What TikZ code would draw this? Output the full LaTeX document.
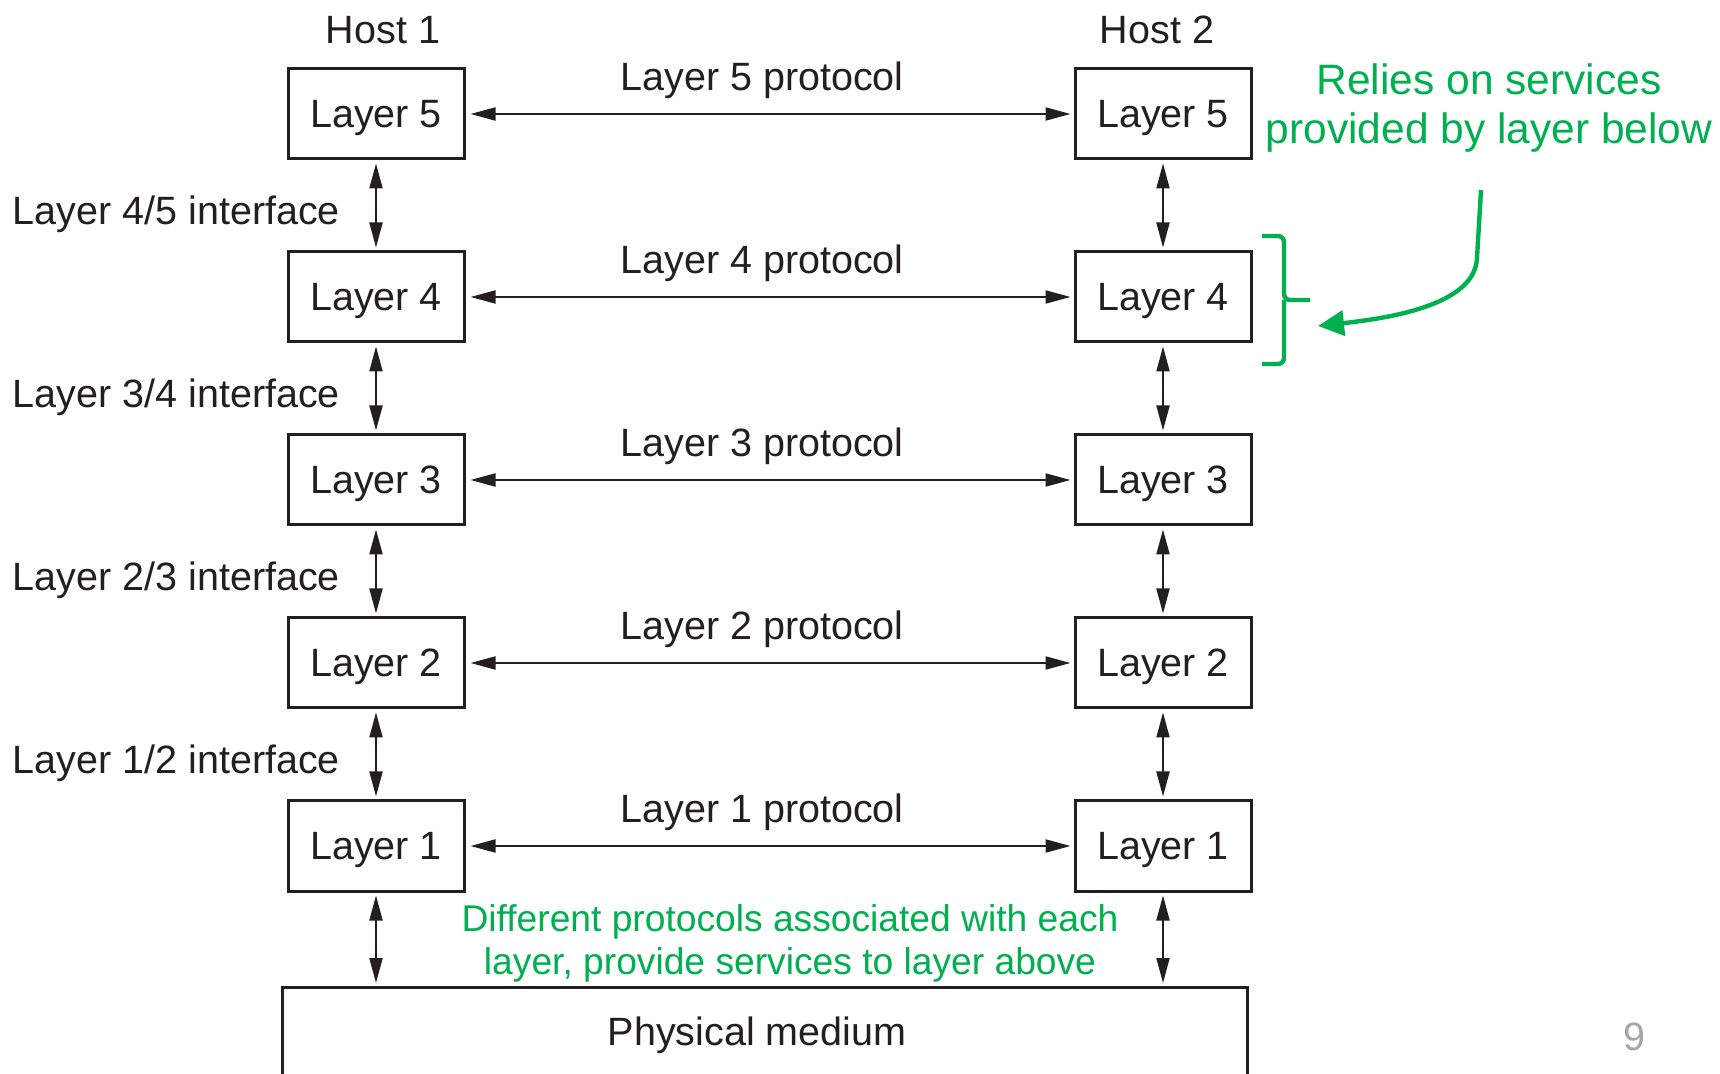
\documentclass[tikz,border=0pt]{standalone}
\usepackage{fontspec}
\setmainfont{Liberation Sans}
\usetikzlibrary{arrows.meta, positioning}

\definecolor{inkblack}{RGB}{35,31,32}
\definecolor{notegreen}{RGB}{0,176,80}

\begin{document}
\begin{tikzpicture} [x=0.5pt, y=-0.5pt, node distance = 91.5pt and 393.5pt, on grid,
        font=\fontsize{19.75}{23}\selectfont, inkblack,
        >={Triangle[length=12.5pt, width=6.5pt]},
        layer/.style = {draw, line width=1.5pt, minimum width=88pt, minimum height=45pt, inner sep=0pt, text depth=0pt},
        link/.style = {<->, line width=1pt, shorten <=2.5pt, shorten >=1.5pt},
        stack/.style = {<->, line width=1pt, shorten <=1.5pt, shorten >=1.5pt},
        proto/.style = {above=7pt, inner sep=0pt, xshift=-3.75pt},
        iface/.style = {anchor=east, inner sep=0pt, xshift=-17.5pt, yshift=-4.5pt},
        note/.style = {notegreen, align=center, inner sep=0pt}]
        \useasboundingbox (0,0) rectangle (1720,1074);
        \fill [white] (0,0) rectangle (1720,1074);

        \node (h1l5) [layer] at (376,114) {Layer 5};
        \node (h1l4) [layer, below = of h1l5] {Layer 4};
        \node (h1l3) [layer, below = of h1l4] {Layer 3};
        \node (h1l2) [layer, below = of h1l3] {Layer 2};
        \node (h1l1) [layer, below = of h1l2] {Layer 1};
        \node (h2l5) [layer, right = of h1l5] {Layer 5};
        \node (h2l4) [layer, right = of h1l4] {Layer 4};
        \node (h2l3) [layer, right = of h1l3] {Layer 3};
        \node (h2l2) [layer, right = of h1l2] {Layer 2};
        \node (h2l1) [layer, right = of h1l1] {Layer 1};

        \node (host1) [above = 42pt of h1l5, xshift=3.5pt] {Host 1};
        \node (host2) [above = 42pt of h2l5, xshift=-3pt] {Host 2};

        \node (phys) [layer, anchor=north, minimum width=482.5pt, minimum height=60pt] at (764.5,986) {};
        \node (medium) at (757,1035) {Physical medium};

        \path [link] (h1l5) edge node [proto] {Layer 5 protocol} (h2l5);
        \path [link] (h1l4) edge node [proto] {Layer 4 protocol} (h2l4);
        \path [link] (h1l3) edge node [proto] {Layer 3 protocol} (h2l3);
        \path [link] (h1l2) edge node [proto] {Layer 2 protocol} (h2l2);
        \path [link] (h1l1) edge node [proto] {Layer 1 protocol} (h2l1);

        \path [stack] (h1l5) edge node [iface] {Layer 4/5 interface} (h1l4);
        \path [stack] (h1l4) edge node [iface] {Layer 3/4 interface} (h1l3);
        \path [stack] (h1l3) edge node [iface] {Layer 2/3 interface} (h1l2);
        \path [stack] (h1l2) edge node [iface] {Layer 1/2 interface} (h1l1);
        \path [stack] (h1l1) edge (h1l1 |- phys.north);

        \path [stack] (h2l5) edge (h2l4);
        \path [stack] (h2l4) edge (h2l3);
        \path [stack] (h2l3) edge (h2l2);
        \path [stack] (h2l2) edge (h2l1);
        \path [stack] (h2l1) edge (h2l1 |- phys.north);

        \node (relies) [note, font=\fontsize{21.25}{24.5}\selectfont] at (1489,108) {Relies on services\\provided by layer below};
        \node (assoc) [note, font=\fontsize{18.6}{21.5}\selectfont] at (790,943) {Different protocols associated with each\\layer, provide services to layer above};

        \draw [notegreen, line width=2.2pt, rounded corners=3pt] (1262,236) -| (1284,300) -- (1310,300) (1284,300) |- (1262,364);
        \coordinate (relytop) at (1481,190);
        \coordinate (relytip) at (1318,326);
        \draw [notegreen, line width=2.2pt, -{Triangle[length=13pt, width=12.5pt]}] (relytop) -- (1477,258) .. controls (1475,305) and (1390,318) .. (relytip);

        \node (pagenum) [text=black!35] at (1634,1037) {9};
    \end{tikzpicture}
\end{document}
